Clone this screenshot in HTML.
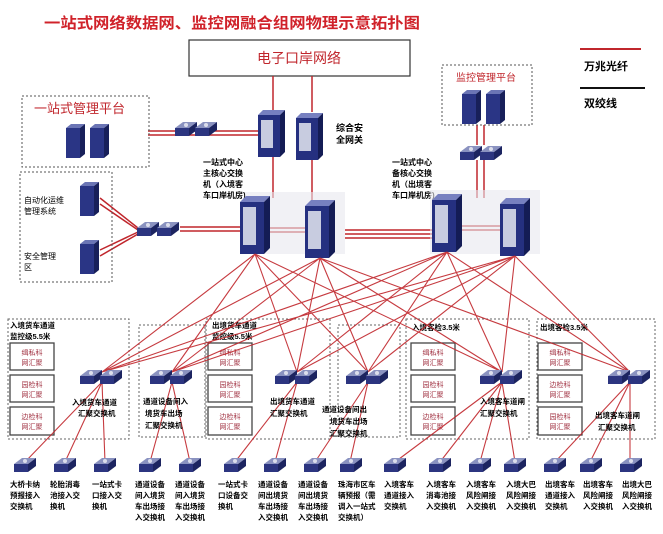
<!DOCTYPE html>
<html><head><meta charset="utf-8"><style>
html,body{margin:0;padding:0;background:#fff}
svg{display:block}
text{font-family:"Liberation Sans","Noto Sans CJK SC",sans-serif}
</style></head><body>
<svg width="663" height="534" viewBox="0 0 663 534" xmlns="http://www.w3.org/2000/svg">
<defs>
<g id="sw"><path d="M0,6 L8,0 L22,0 L14,6 Z" fill="#8a92c0"/><path d="M0,6 L14,6 L14,14 L0,14 Z" fill="#2c3580"/><path d="M14,6 L22,0 L22,8 L14,14 Z" fill="#1c2460"/><circle cx="11" cy="3" r="2" fill="#fff" opacity=".7"/></g>
<g id="sw2"><use href="#sw"/><use href="#sw" x="20"/></g>
<g id="srv"><rect x="0" y="4" width="14" height="30" fill="#2a3585"/><path d="M0,4 L5,0 L19,0 L14,4Z" fill="#6b75b5"/><path d="M14,4 L19,0 L19,30 L14,34Z" fill="#18205a"/></g>
<g id="core"><rect x="0" y="6" width="24" height="52" fill="#253080"/><rect x="3" y="11" width="13" height="38" fill="#c8cce0"/><path d="M0,6 L6,0 L30,0 L24,6Z" fill="#7780c0"/><path d="M24,6 L30,0 L30,52 L24,58Z" fill="#141c55"/></g>
<g id="gw"><rect x="0" y="5" width="22" height="42" fill="#253080"/><rect x="3" y="10" width="12" height="28" fill="#c8cce0"/><path d="M0,5 L5,0 L27,0 L22,5Z" fill="#7780c0"/><path d="M22,5 L27,0 L27,42 L22,47Z" fill="#141c55"/></g>
</defs>

<text x="44" y="28" font-size="15" font-weight="bold" fill="#d0222a" textLength="376" lengthAdjust="spacingAndGlyphs">一站式网络数据网、监控网融合组网物理示意拓扑图</text>

<!-- legend -->
<line x1="580" y1="49" x2="641" y2="49" stroke="#c0262c" stroke-width="2"/>
<text x="584" y="70" font-size="11" font-weight="bold">万兆光纤</text>
<line x1="580" y1="88" x2="645" y2="88" stroke="#111" stroke-width="2"/>
<text x="584" y="107" font-size="11" font-weight="bold">双绞线</text>

<!-- top box -->
<rect x="189" y="40" width="221" height="36" fill="#fff" stroke="#333" stroke-width="1.2"/>
<text x="299" y="63" font-size="14" text-anchor="middle" fill="#c0262c">电子口岸网络</text>

<!-- red lines top -->
<g stroke="#c0262c" stroke-width="1.5" fill="none">
<line x1="273" y1="76" x2="273" y2="112"/><line x1="312" y1="76" x2="312" y2="112"/>
<line x1="273" y1="155" x2="273" y2="198"/><line x1="312" y1="155" x2="312" y2="200"/>
<line x1="148" y1="131" x2="260" y2="131"/><line x1="148" y1="135" x2="260" y2="135"/>
<line x1="477" y1="125" x2="477" y2="145"/><line x1="484" y1="125" x2="484" y2="145"/>
<line x1="477" y1="160" x2="477" y2="198"/><line x1="484" y1="160" x2="484" y2="198"/>
<line x1="180" y1="227" x2="245" y2="227"/><line x1="180" y1="231" x2="245" y2="231"/>
<line x1="268" y1="228" x2="308" y2="228"/><line x1="268" y1="232" x2="308" y2="232"/>
<line x1="345" y1="230" x2="432" y2="230"/><line x1="345" y1="234" x2="432" y2="234"/><line x1="345" y1="238" x2="432" y2="238"/>
<line x1="460" y1="226" x2="502" y2="226"/><line x1="460" y1="230" x2="502" y2="230"/>
<line x1="100" y1="198" x2="138" y2="228"/><line x1="100" y1="204" x2="138" y2="230"/><line x1="100" y1="250" x2="138" y2="232"/><line x1="100" y1="256" x2="138" y2="234"/>
</g>

<!-- left platform -->
<rect x="22" y="96" width="127" height="71" fill="none" stroke="#555" stroke-dasharray="2,2"/>
<text x="34" y="113" font-size="13" fill="#c0262c">一站式管理平台</text>
<use href="#srv" x="66" y="124"/><use href="#srv" x="90" y="124"/>
<rect x="20" y="172" width="92" height="110" fill="none" stroke="#555" stroke-dasharray="2,2"/>
<text x="24" y="203" font-size="8">自动化运维</text><text x="24" y="214" font-size="8">管理系统</text>
<text x="24" y="259" font-size="8">安全管理</text><text x="24" y="270" font-size="8">区</text>
<use href="#srv" x="80" y="182"/><use href="#srv" x="80" y="240"/>
<use href="#sw2" x="175" y="122"/>
<use href="#sw2" x="137" y="222"/>

<!-- gateways -->
<use href="#gw" x="258" y="110"/>
<use href="#gw" x="296" y="113"/>
<text x="336" y="131" font-size="9" font-weight="bold">综合安</text><text x="336" y="143" font-size="9" font-weight="bold">全网关</text>

<!-- monitoring -->
<rect x="442" y="65" width="90" height="60" fill="none" stroke="#555" stroke-dasharray="2,2"/>
<text x="456" y="81" font-size="10" fill="#c0262c">监控管理平台</text>
<use href="#srv" x="462" y="90"/><use href="#srv" x="486" y="90"/>
<use href="#sw2" x="460" y="146"/>

<!-- core labels -->
<g font-size="8" font-weight="bold">
<text x="203" y="165">一站式中心</text><text x="203" y="176">主核心交换</text><text x="203" y="187">机（入境客</text><text x="203" y="198">车口岸机房)</text>
<text x="392" y="165">一站式中心</text><text x="392" y="176">备核心交换</text><text x="392" y="187">机（出境客</text><text x="392" y="198">车口岸机房)</text>
</g>
<rect x="245" y="192" width="100" height="62" fill="#e8e8ee" opacity=".6"/>
<rect x="430" y="190" width="110" height="64" fill="#e8e8ee" opacity=".6"/>
<use href="#core" x="240" y="196"/><use href="#core" x="305" y="200"/>
<use href="#core" x="432" y="194"/><use href="#core" x="500" y="198"/>

<!-- boxes -->
<g fill="none" stroke="#666" stroke-dasharray="2,2">
<rect x="8" y="319" width="121" height="120"/><rect x="139" y="325" width="66" height="112"/>
<rect x="206" y="319" width="124" height="120"/><rect x="338" y="325" width="62" height="112"/>
<rect x="406" y="319" width="123" height="120"/><rect x="537" y="319" width="118" height="120"/>
</g>
<g fill="#fff" stroke="#444" stroke-width="1.3">
<rect x="10" y="343" width="44" height="27"/><rect x="10" y="375" width="44" height="27"/><rect x="10" y="407" width="44" height="28"/>
<rect x="208" y="343" width="44" height="27"/><rect x="208" y="375" width="44" height="27"/><rect x="208" y="407" width="44" height="28"/>
<rect x="411" y="343" width="44" height="27"/><rect x="411" y="375" width="44" height="27"/><rect x="411" y="407" width="44" height="28"/>
<rect x="538" y="343" width="44" height="27"/><rect x="538" y="375" width="44" height="27"/><rect x="538" y="407" width="44" height="28"/>
</g>
<g font-size="7" fill="#a03040" text-anchor="middle">
<text x="32" y="355">缉私科</text><text x="32" y="365">网汇聚</text><text x="32" y="387">园检科</text><text x="32" y="397">网汇聚</text><text x="32" y="419">边检科</text><text x="32" y="429">网汇聚</text>
<text x="230" y="355">缉私科</text><text x="230" y="365">网汇聚</text><text x="230" y="387">园检科</text><text x="230" y="397">网汇聚</text><text x="230" y="419">边检科</text><text x="230" y="429">网汇聚</text>
<text x="433" y="355">缉私科</text><text x="433" y="365">网汇聚</text><text x="433" y="387">园检科</text><text x="433" y="397">网汇聚</text><text x="433" y="419">边检科</text><text x="433" y="429">网汇聚</text>
<text x="560" y="355">缉私科</text><text x="560" y="365">网汇聚</text><text x="560" y="387">边检科</text><text x="560" y="397">网汇聚</text><text x="560" y="419">园检科</text><text x="560" y="429">网汇聚</text>
</g>
<g font-size="7.5" font-weight="bold">
<text x="10" y="328">入境货车通道</text><text x="10" y="339">监控级5.5米</text>
<text x="212" y="328">出境货车通道</text><text x="212" y="339">监控级5.5米</text>
<text x="412" y="330">入境客检3.5米</text><text x="540" y="330">出境客检3.5米</text>
</g>

<!-- red distribution lines -->
<g stroke="#c0262c" stroke-width="1.1" opacity=".9">
<path d="M255,254L102,372M255,254L172,372M255,254L297,372M255,254L368,372M255,254L502,372
M320,258L102,372M320,258L172,372M320,258L297,372M320,258L368,372M320,258L502,372M320,258L630,372
M447,252L102,372M447,252L172,372M447,252L297,372M447,252L368,372M447,252L502,372M447,252L630,372
M515,256L102,372M515,256L172,372M515,256L297,372M515,256L368,372M515,256L502,372M515,256L630,372"/>
<path d="M102,382L25,462M102,382L65,462M102,382L105,462M172,382L150,462M172,382L190,462M297,382L235,462M297,382L275,462M368,382L315,462M368,382L350,462M502,382L395,462M502,382L440,462M502,382L480,462M502,382L515,462M630,382L555,462M630,382L590,462M630,382L630,462"/>
</g>
<use href="#sw2" x="80" y="370"/><use href="#sw2" x="150" y="370"/><use href="#sw2" x="275" y="370"/>
<use href="#sw2" x="346" y="370"/><use href="#sw2" x="480" y="370"/><use href="#sw2" x="608" y="370"/>
<g font-size="7.5" font-weight="bold">
<text x="72" y="405">入境货车通道</text><text x="78" y="416">汇聚交换机</text>
<text x="143" y="404">通道设备间入</text><text x="145" y="416">境货车出场</text><text x="145" y="428">汇聚交换机</text>
<text x="270" y="404">出境货车通道</text><text x="270" y="416">汇聚交换机</text>
<text x="322" y="412">通道设备间出</text><text x="330" y="424">境货车出场</text><text x="330" y="436">汇聚交换机</text>
<text x="480" y="404">入境客车道闸</text><text x="480" y="416">汇聚交换机</text>
<text x="595" y="418">出境客车道闸</text><text x="598" y="430">汇聚交换机</text>
</g>

<!-- bottom switches -->
<g>
<use href="#sw" x="14" y="458"/><use href="#sw" x="54" y="458"/><use href="#sw" x="94" y="458"/><use href="#sw" x="139" y="458"/>
<use href="#sw" x="179" y="458"/><use href="#sw" x="224" y="458"/><use href="#sw" x="264" y="458"/><use href="#sw" x="304" y="458"/>
<use href="#sw" x="340" y="458"/><use href="#sw" x="384" y="458"/><use href="#sw" x="429" y="458"/><use href="#sw" x="469" y="458"/>
<use href="#sw" x="504" y="458"/><use href="#sw" x="544" y="458"/><use href="#sw" x="580" y="458"/><use href="#sw" x="620" y="458"/>
</g>
<g font-size="7.5" font-weight="bold">
<text x="10" y="487">大桥卡纳</text><text x="10" y="498">预报接入</text><text x="10" y="509">交换机</text>
<text x="50" y="487">轮胎消毒</text><text x="50" y="498">池接入交</text><text x="50" y="509">换机</text>
<text x="92" y="487">一站式卡</text><text x="92" y="498">口接入交</text><text x="92" y="509">换机</text>
<text x="135" y="487">通道设备</text><text x="135" y="498">间入境货</text><text x="135" y="509">车出场接</text><text x="135" y="520">入交换机</text>
<text x="175" y="487">通道设备</text><text x="175" y="498">间入境货</text><text x="175" y="509">车出场接</text><text x="175" y="520">入交换机</text>
<text x="218" y="487">一站式卡</text><text x="218" y="498">口设备交</text><text x="218" y="509">换机</text>
<text x="258" y="487">通道设备</text><text x="258" y="498">间出境货</text><text x="258" y="509">车出场接</text><text x="258" y="520">入交换机</text>
<text x="298" y="487">通道设备</text><text x="298" y="498">间出境货</text><text x="298" y="509">车出场接</text><text x="298" y="520">入交换机</text>
<text x="338" y="487">珠海市区车</text><text x="338" y="498">辆预报（需</text><text x="338" y="509">调入一站式</text><text x="338" y="520">交换机）</text>
<text x="384" y="487">入境客车</text><text x="384" y="498">通道接入</text><text x="384" y="509">交换机</text>
<text x="426" y="487">入境客车</text><text x="426" y="498">消毒池接</text><text x="426" y="509">入交换机</text>
<text x="466" y="487">入境客车</text><text x="466" y="498">风险闸接</text><text x="466" y="509">入交换机</text>
<text x="506" y="487">入境大巴</text><text x="506" y="498">风险闸接</text><text x="506" y="509">入交换机</text>
<text x="545" y="487">出境客车</text><text x="545" y="498">通道接入</text><text x="545" y="509">交换机</text>
<text x="583" y="487">出境客车</text><text x="583" y="498">风险闸接</text><text x="583" y="509">入交换机</text>
<text x="622" y="487">出境大巴</text><text x="622" y="498">风险闸接</text><text x="622" y="509">入交换机</text>
</g>
</svg>
</body></html>
